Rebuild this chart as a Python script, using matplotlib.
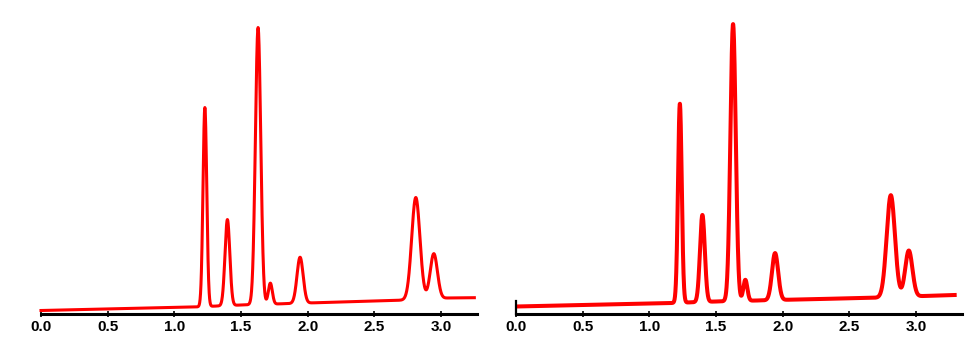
import numpy as np
import matplotlib
matplotlib.use("Agg")
import matplotlib.pyplot as plt

plt.rcParams['font.family'] = ['Liberation Sans Narrow', 'Liberation Sans', 'DejaVu Sans']

# peak table (retention time, height above baseline, width)
peak_rt = [1.229, 1.398, 1.628, 1.720, 1.943, 2.811, 2.946]
peak_width = [0.014, 0.018, 0.020, 0.015, 0.023, 0.031, 0.027]

left_height = [199, 86, 277, 21, 46, 102, 45]
right_height = [199, 87, 277, 21, 47, 102, 46]

# baseline drift, (time, level)
left_base_t = [0.0, 1.15, 1.5, 2.0, 2.7, 3.05, 3.25]
left_base_y = [3.5, 7.0, 9.0, 11.0, 13.8, 16.0, 16.3]
right_base_t = [0.0, 1.1, 1.5, 2.05, 2.7, 3.1, 3.29]
right_base_y = [7.5, 10.7, 12.5, 14.3, 16.3, 18.2, 19.0]

ticks = [0.0, 0.5, 1.0, 1.5, 2.0, 2.5, 3.0]
tick_labels = ['0.0', '0.5', '1.0', '1.5', '2.0', '2.5', '3.0']


def trace(t, base_t, base_y, heights):
    y = np.interp(t, base_t, base_y)
    for rt, h, w in zip(peak_rt, heights, peak_width):
        y = y + h * np.exp(-0.5 * ((t - rt) / w) ** 2)
    return y


fig = plt.figure(figsize=(9.8, 3.39), dpi=100)
bottom = (339 - 314) / 339
ax1 = fig.add_axes([41 / 980, bottom, 436 / 980, 1 - bottom])
ax2 = fig.add_axes([516 / 980, bottom, 446 / 980, 1 - bottom])

t1 = np.linspace(0.0, 3.25, 3000)
t2 = np.linspace(0.02, 3.29, 3000)
ax1.plot(t1, trace(t1, left_base_t, left_base_y, left_height), color='#ff0000', lw=2.2, clip_on=False)
ax2.plot(t2, trace(t2, right_base_t, right_base_y, right_height), color='#ff0000', lw=2.9, clip_on=False)

for ax, xmax in ((ax1, 3.27), (ax2, 3.345)):
    ax.set_xlim(0, xmax)
    ax.set_ylim(0, 314)
    for s in ('top', 'right', 'left'):
        ax.spines[s].set_visible(False)
    ax.spines['bottom'].set_linewidth(2.2)
    ax.set_yticks([])
    ax.set_xticks(ticks)
    ax.set_xticklabels(tick_labels, fontweight='bold', fontsize=11)
    ax.tick_params(axis='x', direction='inout', length=5, width=1.2, pad=2)
    ax.patch.set_alpha(0)

ax2.spines['left'].set_visible(True)
ax2.spines['left'].set_linewidth(1.6)
ax2.spines['left'].set_bounds(0, 13)

fig.savefig('out.png', dpi=100)
